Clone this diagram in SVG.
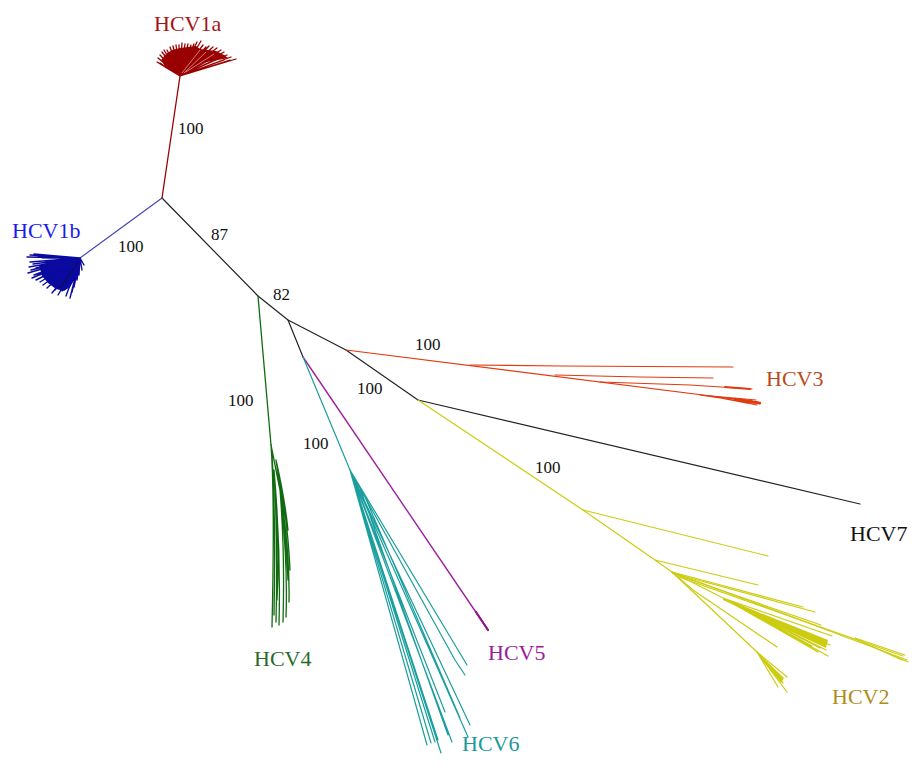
<svg xmlns="http://www.w3.org/2000/svg" width="914" height="772" viewBox="0 0 914 772">
  <style>
    .lbl { font-family: "Liberation Serif", "Times New Roman", serif; font-size: 22px; }
    .bs { font-family: "Liberation Serif", "Times New Roman", serif; font-size: 17px; fill: #111; }
    .ln { fill: none; stroke-linecap: round; stroke-linejoin: round; }
    .bk { stroke: #222; stroke-width: 1.2; }
    .g1a { stroke: #990000; stroke-width: 1.3; }
    .g1b { stroke: #0a0aa0; stroke-width: 1.4; }
    .g3 { stroke: #e03a10; stroke-width: 1.2; }
    .g2 { stroke: #cccc10; stroke-width: 1.2; }
    .g4 { stroke: #106a10; stroke-width: 1.3; }
    .g5 { stroke: #a020a0; stroke-width: 1.4; }
    .g6 { stroke: #1a9e9e; stroke-width: 1.2; }
  </style>
  <rect width="914" height="772" fill="#ffffff"/>

  <!-- backbone of the tree -->
  <g id="connectors" class="ln bk">
    <polyline points="162,198 258,296 288,320 346,350 418,400"/>
    <line x1="288" y1="320" x2="303" y2="357"/>
  </g>

  <!-- bootstrap values -->
  <g id="support">
    <text class="bs" x="178" y="134">100</text>
    <text class="bs" x="118" y="252">100</text>
    <text class="bs" x="211" y="240">87</text>
    <text class="bs" x="273" y="300">82</text>
    <text class="bs" x="415" y="350">100</text>
    <text class="bs" x="357" y="394">100</text>
    <text class="bs" x="228" y="406">100</text>
    <text class="bs" x="303" y="449">100</text>
    <text class="bs" x="535" y="473">100</text>
  </g>

  <!-- genotype 1a -->
  <g id="HCV1a">
    <line class="ln g1a" x1="162" y1="198" x2="180" y2="76"/>
    <polygon fill="#990000" points="180,76 165,66 161,60 166,54 172,50 180,48 188,47 196,46 200,49 208,50 216,51 224,55 228,58 218,60 206,62 196,65 188,70"/>
    <g class="ln g1a">
      <path d="M180,76 L157,62 M180,76 L158,58 M180,76 L160,55 M180,76 L162,52 M180,76 L164,50 M180,76 L167,50 M180,76 L170,47 M180,76 L173,46 M180,76 L176,45 M180,76 L179,45 M180,76 L182,43 M180,76 L185,44 M180,76 L188,44 M180,76 L191,45 M180,76 L194,44 M180,76 L197,42 M180,76 L201,41 M180,76 L203,45 M180,76 L206,47 M180,76 L209,46 M180,76 L213,47 M180,76 L217,48 M180,76 L221,50 M180,76 L224,52 M180,76 L227,55 M180,76 L231,57 M180,76 L236,59 M180,76 L230,60 M180,76 L224,60 M180,76 L218,59 M180,76 L212,61 M180,76 L205,62 M180,76 L198,64 M180,76 L192,67 M180,76 L160,63 M180,76 L165,67 M180,76 L170,70"/>
    </g>
    <path d="M182,73 L200,50 M184,73 L206,52 M186,72 L214,54" stroke="#e8b0b0" stroke-width="0.7" fill="none"/>
    <text class="lbl" x="154" y="31" fill="#a51515">HCV1a</text>
  </g>

  <!-- genotype 1b -->
  <g id="HCV1b">
    <line class="ln" stroke="#4646b8" stroke-width="1.2" x1="162" y1="198" x2="80" y2="258"/>
    <polygon fill="#0a0aa0" points="80,258 62,260 48,262 40,268 42,276 48,283 56,289 64,291 70,287 75,279 79,270"/>
    <g class="ln g1b">
      <path d="M80,258 L27,257 M80,258 L30,255 M80,258 L34,254 M80,258 L38,257 M80,258 L42,258 M80,258 L30,262 M80,258 L33,264 M80,258 L29,267 M80,258 L31,270 M80,258 L28,273 M80,258 L34,275 M80,258 L32,278 M80,258 L36,280 M80,258 L40,282 M80,258 L43,285 M80,258 L47,288 M80,258 L52,293 M80,258 L55,290 M80,258 L58,295 M80,258 L62,291 M80,258 L66,296 M80,258 L70,298 M80,258 L72,292 M80,258 L74,287 M80,258 L77,280 M80,258 L79,275 M80,258 L82,270 M80,258 L84,265 M80,258 L50,280 M80,258 L45,272 M80,258 L40,266 M80,258 L36,268 M80,258 L38,274"/>
    </g>
    <path d="M78,262 L60,288" stroke="#111" stroke-width="0.8" fill="none"/>
    <text class="lbl" x="12" y="238" fill="#1a1aee">HCV1b</text>
  </g>

  <!-- genotype 3 -->
  <g id="HCV3">
    <g class="ln g3">
      <line x1="346" y1="350" x2="758" y2="402"/>
      <polyline points="470,365 560,366 733,367"/>
      <polyline points="555,375 640,377 713,378"/>
      <polyline points="600,382 690,385 752,389"/>
      <path d="M700,395 L756,400 M700,395 L760,404 M715,397 L757,405 M720,397 L752,401"/>
    </g>
    <path d="M735,399 L760,403" stroke="#e03a10" stroke-width="2.4" stroke-linecap="round"/>
    <path d="M725,387 L750,389" stroke="#e03a10" stroke-width="1.8" stroke-linecap="round"/>
    <text class="lbl" x="766" y="386" fill="#b84a20">HCV3</text>
  </g>

  <!-- genotype 7 -->
  <g id="HCV7">
    <line class="ln bk" x1="418" y1="400" x2="860" y2="504"/>
    <text class="lbl" x="850" y="541" fill="#111">HCV7</text>
  </g>

  <!-- genotype 2 -->
  <g id="HCV2">
    <g class="ln g2">
      <polyline points="418,400 583,510 655,560 672,572"/>
      <line x1="583" y1="510" x2="768" y2="556"/>
      <line x1="655" y1="560" x2="758" y2="585"/>
      <line x1="672" y1="572" x2="803" y2="607"/>
      <line x1="672" y1="573" x2="815" y2="612"/>
      <line x1="674" y1="574" x2="821" y2="625"/>
      <line x1="672" y1="572" x2="907" y2="660"/>
      <line x1="676" y1="576" x2="903" y2="656"/>
      <path d="M855,638 L905,655 M855,639 L908,662 M860,641 L902,660"/>
      <path d="M672,572 L723,598 M723,598 L832,636 M723,598 L830,645 M723,598 L826,650 M723,598 L828,656 M723,598 L820,648 M723,598 L815,640 M723,598 L825,642 M723,598 L818,652 M723,598 L812,646"/>
      <polyline points="672,572 693,590 777,647"/>
      <polyline points="672,572 757,652 787,677"/>
      <path d="M757,652 L787,692 M757,652 L783,683 M757,652 L778,687 M757,652 L781,679"/>
    </g>
    <polygon fill="#cccc10" points="723,598 828,640 826,648 723,600"/>
    <polygon fill="#cccc10" points="757,652 784,678 781,683 759,656"/>
    <text class="lbl" x="832" y="704" fill="#b08c1c">HCV2</text>
  </g>

  <!-- genotype 4 -->
  <g id="HCV4">
    <g class="ln g4">
      <line x1="258" y1="296" x2="271" y2="445"/>
      <path d="M271,445 Q275,500 272,627 M274,470 Q278,540 276,622 M274,470 Q281,550 279,625 M271,445 L280,490 Q285,550 283,622 M280,490 Q288,560 286,617 M280,490 Q290,550 289,602 M276,460 Q286,520 288,580 M276,460 Q288,520 290,570 M276,460 Q285,510 287,557 M276,460 Q285,500 288,530 M274,470 Q280,540 277,600 M272,455 Q276,520 274,615"/>
    </g>
    <text class="lbl" x="254" y="666" fill="#2a6a2a">HCV4</text>
  </g>

  <!-- genotype 5 -->
  <g id="HCV5">
    <line class="ln g5" x1="303" y1="357" x2="488" y2="630"/>
    <line x1="476" y1="612" x2="488" y2="630" stroke="#8e108e" stroke-width="2.2" stroke-linecap="round"/>
    <text class="lbl" x="488" y="660" fill="#9a1c9a">HCV5</text>
  </g>

  <!-- genotype 6 -->
  <g id="HCV6">
    <g class="ln g6">
      <line x1="303" y1="357" x2="350" y2="470"/>
      <path d="M350,470 L467,665 M350,470 L455,660 L465,675 M350,470 L445,712 M350,470 L470,725 M350,470 L468,737 M350,470 L452,742 M350,470 L441,753 M350,470 L427,745 M350,470 L431,743 M350,470 L435,742 M350,470 L438,740 M362,490 L460,718 M360,488 L448,735"/>
    </g>
    <text class="lbl" x="462" y="751" fill="#1a9a9a">HCV6</text>
  </g>
</svg>
